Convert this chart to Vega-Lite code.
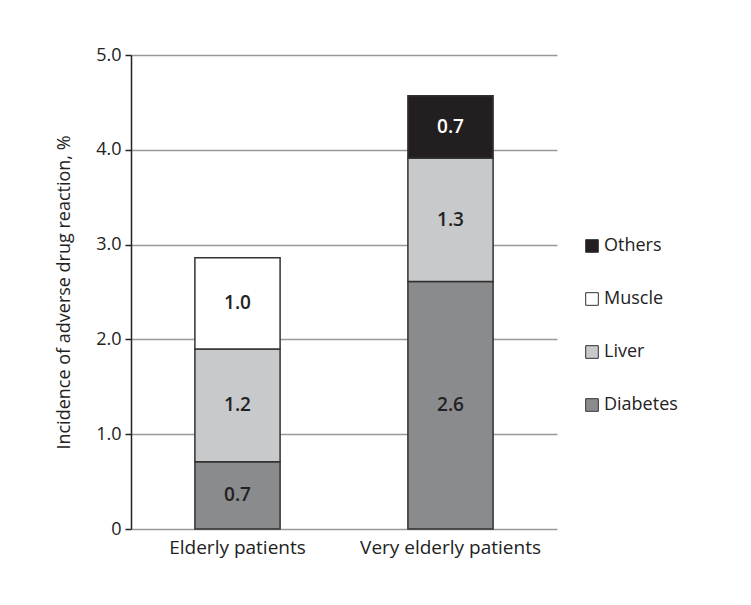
{
  "$schema": "https://vega.github.io/schema/vega-lite/v6.json",
  "width": 426,
  "height": 474,
  "autosize": "none",
  "padding": {"left": 131, "top": 55, "right": 194, "bottom": 76},
  "background": "white",
  "config": {
    "font": "Open Sans",
    "view": {"stroke": null},
    "axis": {"labelFont": "Open Sans", "titleFont": "Open Sans"}
  },
  "data": {
    "values": [
      {"group": "Elderly patients", "category": "Diabetes", "value": 0.71, "label": "0.7", "ord": 1},
      {"group": "Elderly patients", "category": "Liver", "value": 1.19, "label": "1.2", "ord": 2},
      {"group": "Elderly patients", "category": "Muscle", "value": 0.96, "label": "1.0", "ord": 3},
      {"group": "Very elderly patients", "category": "Diabetes", "value": 2.61, "label": "2.6", "ord": 1},
      {"group": "Very elderly patients", "category": "Liver", "value": 1.30, "label": "1.3", "ord": 2},
      {"group": "Very elderly patients", "category": "Others", "value": 0.66, "label": "0.7", "ord": 4}
    ]
  },
  "encoding": {
    "x": {
      "field": "group",
      "type": "nominal",
      "sort": ["Elderly patients", "Very elderly patients"],
      "scale": {"paddingInner": 0.6, "paddingOuter": 0.3},
      "axis": {
        "title": null,
        "labelAngle": 0,
        "labelLimit": 0,
        "domain": false,
        "ticks": false,
        "labelPadding": 9,
        "labelFontSize": 19,
        "labelColor": "#222"
      }
    }
  },
  "layer": [
    {
      "mark": {"type": "bar", "stroke": "#333", "strokeWidth": 1.5},
      "encoding": {
        "y": {
          "field": "value",
          "type": "quantitative",
          "stack": "zero",
          "scale": {"domain": [0, 5], "nice": false},
          "axis": {
            "title": "Incidence of adverse drug reaction, %",
            "titleFontSize": 18,
            "titleFontWeight": "normal",
            "titleColor": "#222",
            "titlePadding": 22,
            "values": [0, 1, 2, 3, 4, 5],
            "labelExpr": "datum.value == 0 ? '0' : format(datum.value, '.1f')",
            "labelFontSize": 18,
            "labelColor": "#222",
            "labelPadding": 4,
            "domainColor": "#222",
            "domainWidth": 1.5,
            "tickColor": "#222",
            "tickSize": 6,
            "tickWidth": 1.5,
            "grid": true,
            "gridColor": "#999",
            "gridWidth": 1.5
          }
        },
        "order": {"field": "ord", "type": "quantitative"},
        "fill": {
          "field": "category",
          "type": "nominal",
          "scale": {
            "domain": ["Diabetes", "Liver", "Muscle", "Others"],
            "range": ["#8a8b8d", "#c8c9cb", "#ffffff", "#231f20"]
          },
          "legend": {
            "title": null,
            "values": ["Others", "Muscle", "Liver", "Diabetes"],
            "orient": "none",
            "legendX": 452,
            "legendY": 182,
            "symbolType": "square",
            "symbolSize": 160,
            "symbolStrokeColor": "#333",
            "symbolStrokeWidth": 1,
            "labelFontSize": 18,
            "labelColor": "#222",
            "labelOffset": 3,
            "rowPadding": 35
          }
        }
      }
    },
    {
      "mark": {"type": "text", "fontSize": 19, "fontWeight": 600, "baseline": "middle", "align": "center"},
      "encoding": {
        "y": {"field": "value", "type": "quantitative", "stack": "zero", "bandPosition": 0.5},
        "order": {"field": "ord", "type": "quantitative"},
        "text": {"field": "label"},
        "color": {
          "condition": {"test": "datum.category === 'Others'", "value": "white"},
          "value": "#222"
        }
      }
    }
  ]
}
